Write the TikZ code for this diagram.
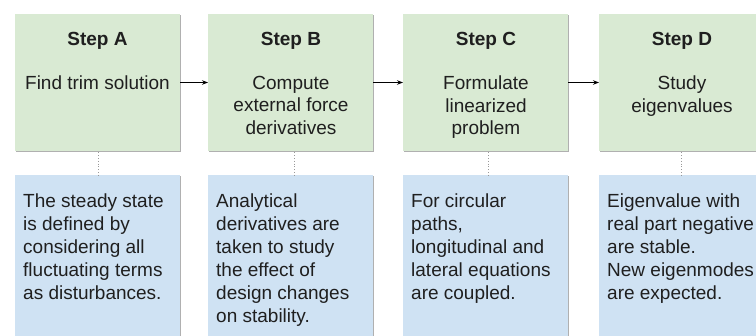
\documentclass[tikz,border=0pt]{standalone}
\usepackage{fontspec}
\setmainfont{Liberation Sans}
\usetikzlibrary{arrows.meta}
\definecolor{gfill}{HTML}{D9EAD3}
\definecolor{bfill}{HTML}{CFE2F3}
\definecolor{txt}{HTML}{1F1F1F}
\definecolor{shade}{HTML}{B0B0B0}
\definecolor{linkgray}{HTML}{999999}
\tikzset{
  shadowed/.style={preaction={fill=shade, transform canvas={shift={(1.3pt,-1.3pt)}}}},
  greenbox/.style={shadowed, fill=gfill, draw=none, minimum width=165pt, minimum height=137pt, inner sep=0pt, outer sep=0pt},
  bluebox/.style={shadowed, fill=bfill, draw=none, minimum width=165pt, minimum height=245pt, inner sep=0pt, outer sep=0pt},
  steptitle/.style={font=\fontsize{19}{22.5}\selectfont\bfseries, text=txt, inner sep=0pt, anchor=base},
  stepbody/.style={font=\fontsize{19}{22.5}\selectfont, align=center, text=txt, inner sep=0pt, anchor=north},
  notetext/.style={font=\fontsize{19}{23}\selectfont, align=left, text=txt, inner sep=0pt, anchor=north west},
  flow/.style={-{Stealth[length=6pt,width=4.5pt]}, line width=0.9pt, draw=black},
  link/.style={dotted, draw=linkgray, line width=0.8pt}
}
\begin{document}
\begin{tikzpicture}[x=1pt,y=-1pt]
\clip (0,0) rectangle (756,336);
\fill[white] (0,0) rectangle (756,336);

% step boxes
\node[greenbox] (ga) at (97.5,82.5) {};
\node[greenbox] (gb) at (290.5,82.5) {};
\node[greenbox] (gc) at (485.5,82.5) {};
\node[greenbox] (gd) at (681.5,82.5) {};

% note boxes
\node[bluebox] (ba) at (97.5,297.5) {};
\node[bluebox] (bb) at (290.5,297.5) {};
\node[bluebox] (bc) at (485.5,297.5) {};
\node[bluebox] (bd) at (681.5,297.5) {};

% titles
\node[steptitle] (ta) at (97.5,46) {Step A};
\node[steptitle] (tb) at (291,46) {Step B};
\node[steptitle] (tc) at (486,46) {Step C};
\node[steptitle] (td) at (682,46) {Step D};

% bodies
\node[stepbody] (sa) at (97.5,75.8) {Find trim solution};
\node[stepbody] (sb) at (291,75.8) {Compute\\external force\\derivatives};
\node[stepbody] (sc) at (486,75.8) {Formulate\\linearized\\problem};
\node[stepbody] (sd) at (682,75.8) {Study\\eigenvalues};

% notes
\node[notetext] (na) at (23,193.3) {The steady state\\is defined by\\considering all\\fluctuating terms\\as disturbances.};
\node[notetext] (nb) at (216,193.3) {Analytical\\derivatives are\\taken to study\\the effect of\\design changes\\on stability.};
\node[notetext] (nc) at (411,193.3) {For circular\\paths,\\longitudinal and\\lateral equations\\are coupled.};
\node[notetext] (nd) at (607,193.3) {Eigenvalue with\\real part negative\\are stable.\\New eigenmodes\\are expected.};

% flow arrows
\draw[flow] (ga.east) -- (gb.west);
\draw[flow] (gb.east) -- (gc.west);
\draw[flow] (gc.east) -- (gd.west);

% dotted links
\draw[link] ([xshift=0.5pt,yshift=-1.5pt]ga.south) -- ([xshift=0.5pt]ba.north);
\draw[link] ([xshift=4pt,yshift=-1.5pt]gb.south) -- ([xshift=4pt]bb.north);
\draw[link] ([xshift=3pt,yshift=-1.5pt]gc.south) -- ([xshift=3pt]bc.north);
\draw[link] ([xshift=0pt,yshift=-1.5pt]gd.south) -- ([xshift=0pt]bd.north);
\end{tikzpicture}
\end{document}
